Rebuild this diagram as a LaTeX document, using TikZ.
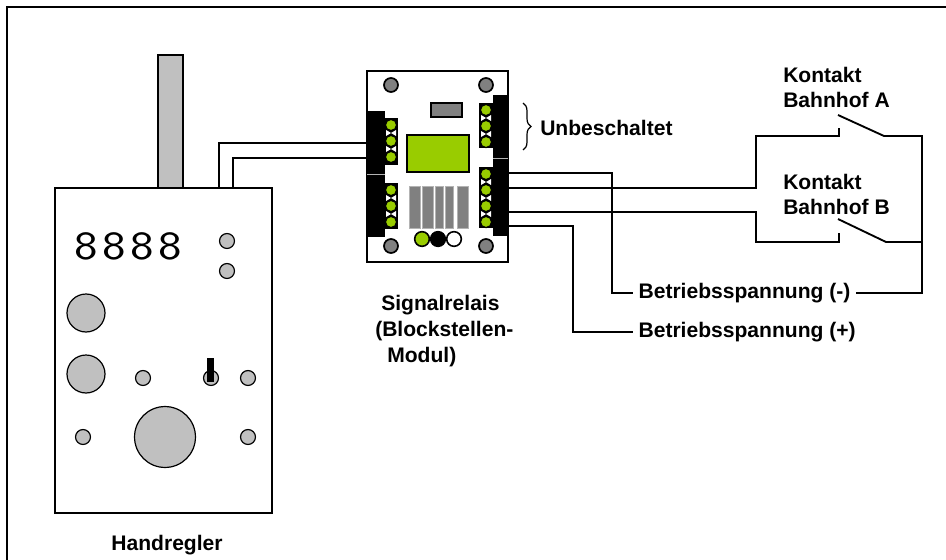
\documentclass[tikz,border=0pt]{standalone}
\usepackage{fontspec}
\setmainfont{Liberation Sans}
\usepackage{tikz}
\usetikzlibrary{
    calc,
    positioning,
    decorations.pathreplacing,
}
\definecolor{pingreen}{HTML}{99CC00}
\definecolor{knobgray}{HTML}{C0C0C0}
\definecolor{modulgray}{HTML}{808080}

\begin{document}
\begin{tikzpicture}[x=0.75pt,y=-0.75pt]

                \tikzstyle{beschriftung}=[font=\fontsize{15.8}{18.8}\selectfont\bfseries, inner sep=0pt, align=left]
                \tikzstyle{wire}=[line width=1.4pt]
                \tikzstyle{klemme}=[circle, fill=pingreen, draw=black, line width=0.9pt, minimum size=8.4pt, inner sep=0pt]
                \tikzstyle{schraube}=[circle, fill=modulgray, draw=black, line width=1.3pt, minimum size=10.5pt, inner sep=0pt]
                \tikzstyle{knopf}=[circle, fill=knobgray, draw=black, line width=0.9pt, inner sep=0pt]

                \useasboundingbox (0,0) rectangle (946,560);
                \draw[line width=1.5pt] (7,560) -- (7,7) -- (946,7);

                % Handregler
                \begin{scope}
                    \draw[fill=knobgray, line width=1.1pt] (158,55) rectangle (183,188);
                    \draw[fill=white, line width=1.1pt] (55,188) rectangle (272,513);
                    \foreach \x in {86,114.5,142.5,170}
                        \node[font=\sffamily\fontsize{30}{30}\selectfont, inner sep=0pt] at (\x,246) {\scalebox{1.25}[1]{8}};
                    \node[knopf, minimum size=11.2pt] (LED1) at (227,241) {};
                    \node[knopf, minimum size=11.2pt] (LED2) at (227,271) {};
                    \node[knopf, minimum size=28.5pt] (P1) at (86,313) {};
                    \node[knopf, minimum size=28.5pt] (P2) at (86,374) {};
                    \node[knopf, minimum size=11.2pt] (T1) at (143,378) {};
                    \node[knopf, minimum size=11.2pt] (S) at (211,378) {};
                    \fill (207,358) rectangle (214,382);
                    \node[knopf, minimum size=11.2pt] (T2) at (248,378) {};
                    \node[knopf, minimum size=11.2pt] (T3) at (83,437) {};
                    \node[knopf, minimum size=11.2pt] (T4) at (248,437) {};
                    \node[knopf, minimum size=45.7pt] (Regler) at (165,437) {};
                    \coordinate (HRa) at (219,188);
                    \coordinate (HRb) at (233,188);
                    \node[beschriftung, anchor=north] (HR) at (167,535) {Handregler};
                \end{scope}

                % Signalrelais
                \begin{scope}
                    \draw[fill=white, line width=2pt] (367,71) rectangle (508,262);
                    \fill (367,111) rectangle (385,237);
                    \fill (385,118) rectangle (398,165);
                    \fill (385,183) rectangle (398,229);
                    \fill (493,95) rectangle (508,236);
                    \fill (479,103) rectangle (493,148);
                    \fill (479,167) rectangle (493,228);
                    \draw[modulgray!60, line width=0.6pt] (367,174) -- (385,174);
                    \draw[modulgray!60, line width=0.6pt] (493,158) -- (508,158);
                    \foreach \x/\y in {391/133,391/149,391/198,391/214,486/118,486/134,486/182,486/198,486/214} {
                        \fill[white] (\x-5,\y-3) -- (\x,\y) -- (\x-5,\y+3) -- cycle;
                        \fill[white] (\x+5,\y-3) -- (\x,\y) -- (\x+5,\y+3) -- cycle;
                    }
                    \foreach \y [count=\i] in {125,141,157,190,206,222}
                        \node[klemme] (L\i) at (391,\y) {};
                    \foreach \y [count=\i] in {110,126,142,174,190,206,222}
                        \node[klemme] (R\i) at (486,\y) {};
                    \foreach \x/\y [count=\i] in {391/85,486/85,391/246,486/246}
                        \node[schraube] (SR\i) at (\x,\y) {};
                    \draw[fill=modulgray, line width=1.2pt] (431,103) rectangle (462,117);
                    \draw[fill=pingreen, line width=1.5pt] (407,135) rectangle (469,172);
                    \foreach \a/\b in {409/420,422/433,435/443,445/453,457/468}
                        \draw[fill=modulgray, draw=modulgray!60, line width=0.6pt] (\a,186) rectangle (\b,228);
                    \node[circle, fill=pingreen, draw, line width=1.2pt, minimum size=11pt, inner sep=0pt] (D1) at (422,239) {};
                    \node[circle, fill=black, draw, line width=1.2pt, minimum size=11pt, inner sep=0pt] (D2) at (438,239) {};
                    \node[circle, fill=white, draw, line width=1.2pt, minimum size=11pt, inner sep=0pt] (D3) at (454,239) {};
                    \coordinate (ML1) at (367,143);
                    \coordinate (ML2) at (367,158);
                    \coordinate (MR1) at (508,173);
                    \coordinate (MR2) at (508,188);
                    \coordinate (MR3) at (508,212);
                    \coordinate (MR4) at (508,226);
                    \node[beschriftung, font=\fontsize{15.8}{19.6}\selectfont\bfseries, anchor=north west] (SRel) at (375,295) {\hspace{4.5pt}Signalrelais\\(Blockstellen-\\\hspace{9pt}Modul)};
                \end{scope}

                \draw[decorate, decoration={brace, amplitude=6pt}, line width=0.9pt] (523,103) -- (523,150);
                \node[beschriftung, anchor=west] (UB) at (540,128) {Unbeschaltet};

                % Kontakte
                \node[beschriftung, anchor=north west] (KA) at (783,67) {Kontakt\\Bahnhof A};
                \node[beschriftung, anchor=north west] (KB) at (783,174) {Kontakt\\Bahnhof B};
                \coordinate (A-fix) at (839,136);
                \coordinate (A-tip) at (838,115);
                \coordinate (A-out) at (884,136);
                \coordinate (B-fix) at (839,242);
                \coordinate (B-tip) at (838,219);
                \coordinate (B-out) at (886,242);

                \node[beschriftung, inner xsep=4pt, anchor=west] (minus) at (633,293) {Betriebsspannung (-)};
                \node[beschriftung, inner xsep=4pt, anchor=west] (plus) at (633,332) {Betriebsspannung (+)};

                % Leitungen
                \draw[wire] (HRa) |- (ML1);
                \draw[wire] (HRb) |- (ML2);
                \draw[wire] (MR1) -| (612,293) -- (minus.west);
                \draw[wire] (MR2) -- (756,188) |- (A-fix) -- ++(0,-8);
                \draw[wire] (MR3) -- (756,212) |- (B-fix) -- ++(0,-9);
                \draw[wire] (MR4) -| (573,332) -- (plus.west);
                \draw[wire] (A-tip) -- (A-out) -- (922,136) -- (922,293) -- (minus.east);
                \draw[wire] (B-tip) -- (B-out) -- (922,242);
            \end{tikzpicture}
\end{document}
